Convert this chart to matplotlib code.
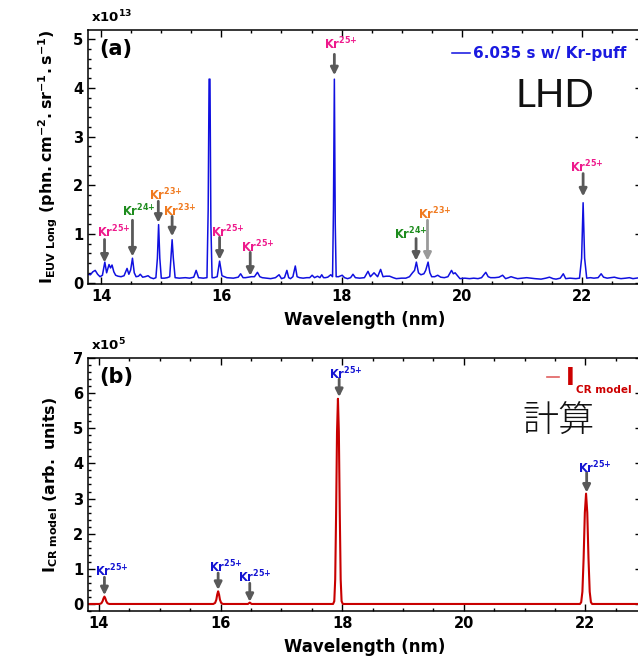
import matplotlib
matplotlib.use("Agg")
import matplotlib.pyplot as plt
from matplotlib.ticker import MultipleLocator

plt.rcParams['font.family'] = ['DejaVu Sans']
plt.rcParams['font.weight'] = 'bold'
plt.rcParams['mathtext.fontset'] = 'dejavusans'
plt.rcParams['mathtext.default'] = 'bf'

# ---------------- data: panel (a) measured LHD spectrum ----------------
wl_a = [13.78, 13.82, 13.86, 13.90, 13.94, 13.98, 14.02, 14.06, 14.09, 14.13, 14.155, 14.18, 14.21, 14.24,
        14.28, 14.33, 14.38, 14.43, 14.46, 14.49, 14.52, 14.55, 14.58, 14.62, 14.65, 14.69, 14.73, 14.78,
        14.82, 14.87, 14.91, 14.935, 14.955, 14.975, 15.0, 15.05, 15.1, 15.14, 15.165, 15.18, 15.20, 15.23,
        15.3, 15.4, 15.47, 15.54, 15.58, 15.62, 15.7, 15.76, 15.78, 15.795, 15.81, 15.825, 15.845, 15.88,
        15.93, 15.97, 16.01, 16.09, 16.2, 16.28, 16.32, 16.36, 16.4, 16.45, 16.5, 16.55, 16.6, 16.64, 16.68,
        16.75, 16.82, 16.9, 16.96, 17.0, 17.05, 17.09, 17.12, 17.15, 17.19, 17.23, 17.26, 17.3, 17.36, 17.42,
        17.47, 17.51, 17.55, 17.6, 17.64, 17.67, 17.7, 17.73, 17.77, 17.82, 17.85, 17.865, 17.88, 17.895,
        17.91, 17.95, 18.01, 18.05, 18.1, 18.15, 18.19, 18.23, 18.3, 18.38, 18.44, 18.48, 18.54, 18.6, 18.65,
        18.69, 18.74, 18.8, 18.86, 18.91, 19.0, 19.07, 19.13, 19.18, 19.215, 19.245, 19.28, 19.32, 19.37,
        19.40, 19.44, 19.47, 19.5, 19.55, 19.6, 19.65, 19.71, 19.77, 19.83, 19.86, 19.89, 19.93, 19.97,
        20.05, 20.13, 20.2, 20.27, 20.33, 20.4, 20.44, 20.48, 20.55, 20.62, 20.68, 20.73, 20.78, 20.82,
        20.87, 20.93, 21.0, 21.08, 21.15, 21.22, 21.32, 21.4, 21.46, 21.52, 21.57, 21.64, 21.69, 21.73,
        21.8, 21.9, 21.96, 21.995, 22.02, 22.045, 22.08, 22.14, 22.2, 22.27, 22.32, 22.36, 22.42, 22.48,
        22.54, 22.6, 22.65, 22.73, 22.79, 22.85, 22.91, 22.96, 23.0]
int_a = [0.17, 0.16, 0.22, 0.25, 0.17, 0.12, 0.15, 0.42, 0.20, 0.37, 0.30, 0.36, 0.22, 0.15,
         0.13, 0.12, 0.14, 0.29, 0.17, 0.26, 0.50, 0.20, 0.12, 0.13, 0.17, 0.11, 0.12, 0.14,
         0.10, 0.08, 0.10, 0.50, 1.19, 0.50, 0.09, 0.09, 0.10, 0.12, 0.60, 0.88, 0.50, 0.10,
         0.09, 0.10, 0.09, 0.11, 0.25, 0.10, 0.09, 0.10, 1.50, 4.18, 4.18, 1.20, 0.10, 0.10,
         0.12, 0.44, 0.14, 0.10, 0.09, 0.11, 0.18, 0.10, 0.10, 0.11, 0.12, 0.12, 0.21, 0.12, 0.10,
         0.09, 0.08, 0.10, 0.16, 0.08, 0.10, 0.25, 0.10, 0.08, 0.12, 0.34, 0.12, 0.10, 0.09, 0.10,
         0.10, 0.15, 0.10, 0.13, 0.10, 0.16, 0.10, 0.10, 0.11, 0.16, 0.12, 1.50, 4.18, 1.20,
         0.12, 0.12, 0.15, 0.10, 0.08, 0.10, 0.17, 0.10, 0.09, 0.10, 0.23, 0.12, 0.20, 0.12, 0.27,
         0.12, 0.13, 0.13, 0.10, 0.08, 0.09, 0.09, 0.12, 0.20, 0.25, 0.42, 0.20, 0.16, 0.18,
         0.25, 0.42, 0.20, 0.12, 0.12, 0.15, 0.11, 0.10, 0.12, 0.25, 0.18, 0.20, 0.14, 0.08,
         0.09, 0.08, 0.09, 0.08, 0.10, 0.21, 0.12, 0.10, 0.10, 0.11, 0.15, 0.08, 0.10, 0.12,
         0.10, 0.08, 0.09, 0.10, 0.09, 0.08, 0.07, 0.09, 0.11, 0.08, 0.07, 0.09, 0.18, 0.08,
         0.09, 0.08, 0.09, 0.50, 1.64, 0.50, 0.09, 0.10, 0.09, 0.10, 0.18, 0.11, 0.09, 0.10,
         0.11, 0.09, 0.08, 0.09, 0.10, 0.08, 0.09, 0.10, 0.10]

# ---------------- data: panel (b) CR model spectrum ----------------
wl_b = [13.82, 14.01, 14.04, 14.06, 14.075, 14.09, 14.105, 14.12, 14.14, 14.17,
        15.88, 15.91, 15.93, 15.945, 15.96, 15.975, 15.99, 16.01, 16.04,
        16.45, 16.48, 16.51,
        17.85, 17.87, 17.885, 17.9, 17.915, 17.93, 17.945, 17.96, 17.975, 17.99, 18.01,
        21.91, 21.93, 21.95, 21.97, 21.99, 22.01, 22.03, 22.05, 22.07, 22.09, 22.11,
        22.93]
int_b = [0.0, 0.0, 0.02, 0.08, 0.16, 0.21, 0.16, 0.08, 0.02, 0.0,
         0.0, 0.03, 0.12, 0.27, 0.36, 0.27, 0.12, 0.03, 0.0,
         0.0, 0.04, 0.0,
         0.0, 0.08, 0.7, 2.6, 4.9, 5.84, 4.9, 2.6, 0.7, 0.08, 0.0,
         0.0, 0.05, 0.35, 1.3, 2.6, 3.14, 2.6, 1.3, 0.35, 0.05, 0.0,
         0.0]

# ---------------- annotations ----------------
ann_a_wl = [14.055, 14.52, 14.95, 15.18, 15.97, 16.48, 17.88, 19.24, 19.43, 22.02]
ann_a_ion = ['25+', '24+', '23+', '23+', '25+', '25+', '25+', '24+', '23+', '25+']
ann_a_tip = [0.41, 0.535, 1.23, 0.95, 0.47, 0.14, 4.26, 0.45, 0.45, 1.77]
ann_a_top = [0.885, 1.28, 1.67, 1.36, 0.93, 0.62, 4.69, 0.905, 1.28, 2.24]
ann_a_tx = [14.21, 14.62, 15.07, 15.31, 16.11, 16.61, 17.985, 19.15, 19.55, 22.08]
ann_a_ty = [1.03, 1.46, 1.80, 1.47, 1.03, 0.74, 4.90, 0.99, 1.40, 2.37]
ann_a_arrowcol = ['#595959'] * 8 + ['#9a9a9a', '#595959']

ann_b_wl = [14.09, 15.96, 16.48, 17.95, 22.02]
ann_b_ion = ['25+'] * 5
ann_b_tip = [0.25, 0.40, 0.06, 5.89, 3.17]
ann_b_top = [0.76, 0.88, 0.59, 6.40, 3.74]
ann_b_tx = [14.21, 16.08, 16.57, 18.06, 22.15]
ann_b_ty = [0.93, 1.05, 0.76, 6.54, 3.88]

ion_colors = {'25+': '#ee1a8c', '24+': '#1e8c1e', '23+': '#f07a20'}


def ion_label(ion):
    # '{+}' keeps mathtext from adding operator spacing around '+'
    return r'$Kr^{%s{+}}$' % ion.rstrip('+')


W, H = 638, 657
fig = plt.figure(figsize=(W / 100, H / 100), dpi=100)


def frac_axes(left, top, right, bottom):
    return fig.add_axes([left / W, 1 - bottom / H, (right - left) / W, (bottom - top) / H])


ax1 = frac_axes(88, 30, 642, 284)
ax2 = frac_axes(88, 358, 642, 611)

for ax in (ax1, ax2):
    ax.xaxis.set_major_locator(MultipleLocator(2))
    ax.xaxis.set_minor_locator(MultipleLocator(0.5))
    ax.yaxis.set_major_locator(MultipleLocator(1))
    ax.yaxis.set_minor_locator(MultipleLocator(0.2))
    ax.tick_params(which='both', direction='in', top=True, right=True, labelsize=10.5, width=1)
    ax.tick_params(which='major', length=5)
    ax.tick_params(which='minor', length=2.5)
    for s in ax.spines.values():
        s.set_linewidth(1.1)
    for lab in ax.get_xticklabels() + ax.get_yticklabels():
        lab.set_fontweight('bold')
    ax.set_xlabel('Wavelength (nm)', fontsize=12, fontweight='bold')
    ax.xaxis.set_label_coords(0.5, -27 / 253)
    ax.xaxis.label.set_verticalalignment('top')

# panel a
ax1.plot(wl_a, int_a, color='#1010e0', lw=1.1)
ax1.set_xlim(13.78, 23.0)
ax1.set_ylim(-0.03, 5.19)
ax1.set_ylabel(r'$I_{EUV\ Long}\ (phn.cm^{-2}.sr^{-1}.s^{-1})$', fontsize=11.4)
ax1.yaxis.set_label_coords(-0.05, 0.5)
ax1.text(0.005, 1.02, r'$x10^{13}$', transform=ax1.transAxes, fontsize=9.5, ha='left', va='bottom')
ax1.text(0.02, 0.965, '(a)', transform=ax1.transAxes, fontsize=15, fontweight='bold', ha='left', va='top')
ax1.plot([0.657, 0.690], [0.909, 0.909], transform=ax1.transAxes, color='#1010e0', lw=1.1)
ax1.text(0.695, 0.909, '6.035 s w/ Kr-puff', transform=ax1.transAxes, color='#1a1ae0',
         fontsize=11, fontweight='bold', ha='left', va='center')
ax1.text(0.771, 0.697, 'LHD', transform=ax1.transAxes, fontsize=28, fontfamily='Lato',
         fontweight='normal', color='#111111', ha='left', va='baseline')

for wl, ion, tip, top, tx, ty, ac in zip(ann_a_wl, ann_a_ion, ann_a_tip, ann_a_top, ann_a_tx, ann_a_ty, ann_a_arrowcol):
    ax1.annotate('', xy=(wl, tip), xytext=(wl, top),
                 arrowprops=dict(arrowstyle='-|>', mutation_scale=11, lw=2, color=ac, shrinkA=0, shrinkB=0))
    ax1.text(tx, ty, ion_label(ion), color=ion_colors[ion], fontsize=8.3, ha='center', va='center')

# panel b
ax2.plot(wl_b, int_b, color='#c80000', lw=1.5)
ax2.set_xlim(13.82, 22.93)
ax2.set_ylim(-0.2, 7.0)
ax2.set_ylabel(r'$I_{CR\ model}\ (arb.\ units)$', fontsize=11.4)
ax2.yaxis.set_label_coords(-0.05, 0.5)
ax2.text(0.005, 1.02, r'$x10^{5}$', transform=ax2.transAxes, fontsize=9.5, ha='left', va='bottom')
ax2.text(0.02, 0.965, '(b)', transform=ax2.transAxes, fontsize=15, fontweight='bold', ha='left', va='top')
ax2.plot([0.8285, 0.8505], [0.926, 0.926], transform=ax2.transAxes, color='#e06060', lw=1.2)
ax2.text(0.863, 0.893, 'I', transform=ax2.transAxes, color='#cc0000', fontsize=17,
         fontweight='bold', ha='left', va='baseline')
ax2.text(0.881, 0.863, 'CR model', transform=ax2.transAxes, color='#cc0000', fontsize=7.5,
         fontweight='bold', ha='left', va='baseline')
ax2.text(0.850, 0.747, '計算', transform=ax2.transAxes, fontsize=26,
         fontfamily=['Noto Sans CJK JP', 'DejaVu Sans'], fontweight='light', color='#111111',
         ha='center', va='center')

for wl, ion, tip, top, tx, ty in zip(ann_b_wl, ann_b_ion, ann_b_tip, ann_b_top, ann_b_tx, ann_b_ty):
    ax2.annotate('', xy=(wl, tip), xytext=(wl, top),
                 arrowprops=dict(arrowstyle='-|>', mutation_scale=11, lw=2, color='#595959', shrinkA=0, shrinkB=0))
    ax2.text(tx, ty, ion_label(ion), color='#1414d2', fontsize=8.3, ha='center', va='center')

fig.savefig('out.png', dpi=100)
